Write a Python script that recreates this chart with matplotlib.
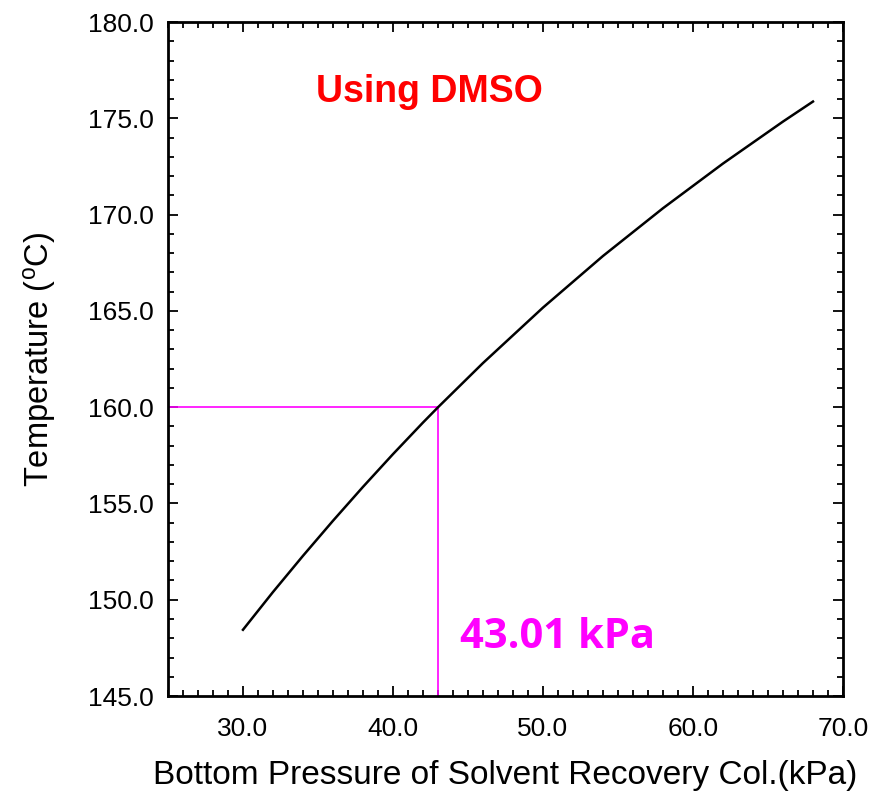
import numpy as np
import matplotlib.pyplot as plt
from matplotlib.ticker import MultipleLocator, FormatStrFormatter

# Bottom pressure (kPa) vs bottom temperature (C)
pressure = [30.0, 32.0, 34.0, 36.0, 38.0, 40.0, 42.0, 43.01, 46.0, 50.0,
            54.0, 58.0, 62.0, 66.0, 68.0]
temperature = [148.44, 150.40, 152.28, 154.10, 155.86, 157.56, 159.20, 160.0,
               162.29, 165.17, 167.85, 170.33, 172.65, 174.83, 175.87]

target_p = 43.01
target_t = 160.0

plt.rcParams['font.family'] = ['Liberation Sans', 'DejaVu Sans']
plt.rcParams['mathtext.default'] = 'regular'

fig = plt.figure(figsize=(8.73, 7.95), dpi=100)
ax = fig.add_axes([0.1924, 0.1245, 0.7732, 0.8478])

ax.plot(pressure, temperature, color='black', lw=1.8, zorder=3)

# guide lines to the operating point
ax.plot([25, target_p], [target_t, target_t], color='#FF00FF', lw=1.2)
ax.plot([target_p, target_p], [145, target_t], color='#FF00FF', lw=1.2)

ax.set_xlim(25, 70)
ax.set_ylim(145, 180)
ax.xaxis.set_major_locator(MultipleLocator(10))
ax.xaxis.set_minor_locator(MultipleLocator(1))
ax.yaxis.set_major_locator(MultipleLocator(5))
ax.yaxis.set_minor_locator(MultipleLocator(1))
ax.xaxis.set_major_formatter(FormatStrFormatter('%.1f'))
ax.yaxis.set_major_formatter(FormatStrFormatter('%.1f'))
ax.set_xticks([30, 40, 50, 60, 70])

ax.tick_params(which='both', direction='in', top=True, right=True,
               width=1.3, labelsize=19)
ax.tick_params(which='major', length=7)
ax.tick_params(which='minor', length=4)
ax.tick_params(axis='x', pad=15)
ax.tick_params(axis='y', pad=10)
for s in ax.spines.values():
    s.set_linewidth(2.0)

ax.set_xlabel('Bottom Pressure of Solvent Recovery Col.(kPa)', fontsize=24, labelpad=14)
ax.set_ylabel('Temperature ($^{o}$C)', fontsize=23.5, labelpad=22)

ax.text(0.388, 0.896, 'Using DMSO', transform=ax.transAxes, color='red',
        fontsize=27, fontweight='bold', ha='center', va='center')
ax.text(44.47, 148.06, '43.01 kPa', color='#FF00FF', fontsize=30,
        fontweight='bold', family=['Open Sans', 'DejaVu Sans'],
        ha='left', va='center')

fig.savefig('out.png', dpi=100)
